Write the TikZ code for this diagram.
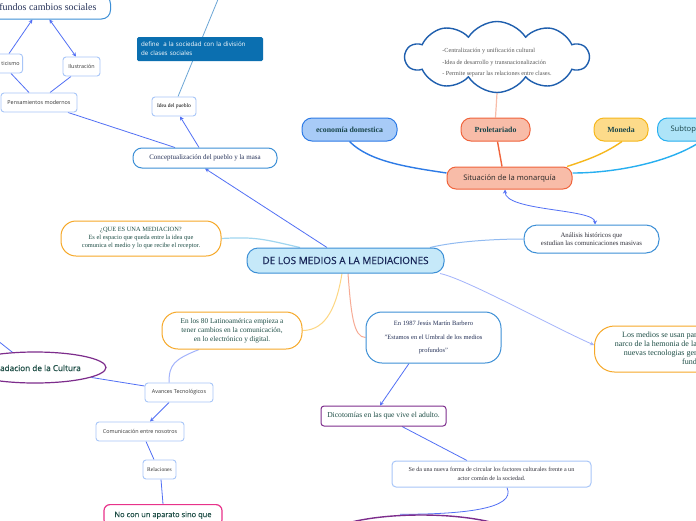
\documentclass[tikz,border=0pt]{standalone}
\usepackage{fontspec}
\setmainfont{Liberation Serif}
\newfontfamily\osans{Open Sans}
\newfontfamily\osansmed[FakeBold=0.5]{Open Sans}
\usetikzlibrary{arrows.meta,shapes.geometric,shapes.symbols}
\pgfdeclarelayer{bg}
\pgfsetlayers{bg,main}
\definecolor{cblue}{RGB}{82,112,245}
\definecolor{lbord}{RGB}{168,198,248}
\definecolor{mbord}{RGB}{60,143,214}
\definecolor{obord}{RGB}{246,168,40}
\definecolor{pbord}{RGB}{125,45,140}
\definecolor{pinkbd}{RGB}{232,50,138}
\definecolor{dgreen}{RGB}{30,78,70}
\definecolor{navy}{RGB}{24,38,88}
\definecolor{navytwo}{RGB}{40,52,90}
\definecolor{dgray}{RGB}{50,50,60}
\definecolor{defblue}{RGB}{11,111,176}
\definecolor{cenfill}{RGB}{198,233,249}
\definecolor{sfill}{RGB}{248,188,168}
\definecolor{sbord}{RGB}{240,100,60}
\definecolor{ecofill}{RGB}{168,203,247}
\definecolor{ecobord}{RGB}{46,123,230}
\definecolor{monfill}{RGB}{253,219,138}
\definecolor{monbord}{RGB}{246,183,27}
\definecolor{subfill}{RGB}{174,228,248}
\definecolor{subbord}{RGB}{39,175,240}
\definecolor{cldbord}{RGB}{31,95,174}
\definecolor{lcyan}{RGB}{160,214,240}
\definecolor{lperi}{RGB}{163,179,251}
\definecolor{lyel}{RGB}{253,215,131}
\definecolor{lsalm}{RGB}{247,171,149}
\definecolor{dteal}{RGB}{25,70,75}
\tikzset{
  sbox/.style={draw=lbord, fill=white, line width=0.9pt, rounded corners=3pt, inner sep=1pt, font=\osans\fontsize{5.4}{6.5}\selectfont, text=black!80},
  capbox/.style={fill=white, line width=1pt, align=center},
  conn/.style={draw=cblue, line width=0.8pt},
  thick conn/.style={line width=1.4pt},
  tip/.style={-{Stealth[length=4pt,width=4pt]}},
  dtip/.style={{Stealth[length=4pt,width=4pt]}-{Stealth[length=4pt,width=4pt]}}
}
\begin{document}
\begin{tikzpicture}[x=1pt,y=-1pt]
\begin{pgfonlayer}{bg}
\fill[white] (0,0) rectangle (696,520);
\end{pgfonlayer}
\useasboundingbox (0,0) rectangle (696,520);

% ---- upper left
\node[capbox, draw=mbord, anchor=east, minimum height=24, inner xsep=0pt, rounded corners=9pt, font=\fontsize{10}{12}\selectfont, text=navytwo] (top) at (111,7) {\hspace*{22pt}fundos cambios sociales\hspace*{14pt}};
\node[sbox, anchor=east, minimum height=19, inner xsep=0pt] (tic) at (23,63.5) {\hspace*{20pt}ticismo\hspace*{3pt}};
\node[sbox, minimum width=37, minimum height=19] (ilu) at (81.5,66.5) {Ilustración};
\node[sbox, minimum width=76, minimum height=19] (pen) at (39,102.5) {Pensamientos modernos};
\node[sbox, minimum width=44, minimum height=19, font=\fontsize{5.5}{6.5}\selectfont, text=black] (idea) at (174,106.5) {Idea del pueblo};
\node[fill=defblue, rounded corners=1.5pt, minimum width=126, minimum height=24, text width=118, align=left, inner sep=0pt, font=\osans\fontsize{6.2}{9}\selectfont, text=white] (def) at (200,49) {define\ \ a la sociedad con la división\\de clases sociales};
\node[capbox, draw=mbord, minimum width=144, minimum height=20, rounded corners=9pt, font=\fontsize{7}{8}\selectfont, text=navytwo] (con) at (205,158) {Conceptualización del pueblo y la masa};
\coordinate (upend) at (226,-20);

% ---- centre
\node[capbox, draw=mbord, fill=cenfill, rounded corners=11pt, minimum width=197, minimum height=25, font=\osansmed\fontsize{10}{12}\selectfont, text=navy] (cen) at (345.5,260.5) {DE LOS MEDIOS A LA MEDIACIONES};
\node[capbox, draw=obord, rounded corners=15pt, minimum width=160, minimum height=35, font=\fontsize{6.4}{8}\selectfont, text=dgreen] (que) at (141,238.5) {¿QUE ES UNA MEDIACION?\\Es el espacio que queda entre la idea que\\comunica el medio y lo que recibe el receptor.};

% ---- upper right
\node[capbox, draw=sbord, fill=sfill, rounded corners=9pt, minimum width=125, minimum height=22, font=\osans\fontsize{7.6}{8.5}\selectfont, text=black!85] (sit) at (509.5,178) {Situación de la monarquía};
\node[capbox, draw=ecobord, fill=ecofill, rounded corners=10pt, minimum width=95, minimum height=23, font=\bfseries\fontsize{7.8}{9}\selectfont, text=dteal] (eco) at (349.5,129.5) {economía domestica};
\node[capbox, draw=sbord, fill=sfill, rounded corners=10pt, minimum width=69, minimum height=23, font=\bfseries\fontsize{7.8}{9}\selectfont, text=dteal] (prol) at (495.5,129.5) {Proletariado};
\node[capbox, draw=monbord, fill=monfill, rounded corners=10pt, minimum width=54, minimum height=23, font=\bfseries\fontsize{7.8}{9}\selectfont, text=dteal] (mon) at (621,129.5) {Moneda};
\node[capbox, draw=subbord, fill=subfill, rounded corners=10pt, anchor=west, minimum height=23, inner xsep=0pt, font=\osans\fontsize{7.6}{9}\selectfont, text=dteal] (sub) at (657,129.5) {\hspace*{13pt}Subtop\hspace*{40pt}};
\node[cloud, cloud puffs=10, cloud puff arc=115, aspect=2.6, draw=cldbord, line width=1.4pt, fill=white, minimum width=183, minimum height=71, inner sep=0pt] (cld) at (497,57) {};
\node[align=left, inner sep=0pt, font=\fontsize{6.2}{11.5}\selectfont, text=black!65] (cldt) at (497,62.5) {-Centralización y unificación cultural\\-Idea de desarrollo y transnacionalización\\- Permite separar las relaciones entre clases.};
\node[capbox, draw=mbord, rounded corners=13pt, minimum width=135, minimum height=28, font=\fontsize{6.8}{8.5}\selectfont, text=dgray] (ana) at (591.5,239) {Análisis históricos que\\estudian las comunicaciones masivas};
\node[capbox, draw=obord, rounded corners=20pt, minimum width=190, minimum height=46, anchor=west] (medbox) at (594,349) {};
\node[anchor=east, align=right, inner sep=0pt, font=\fontsize{8}{9}\selectfont, text=dgreen] (medtxt) at (697,348.5) {Los medios se usan par\\narco de la hemonia de la\\nuevas tecnologias ger\\fund};

% ---- lower left
\node[capbox, draw=obord, rounded corners=16pt, minimum width=140, minimum height=37, font=\fontsize{7.3}{9}\selectfont, text=dgreen] (en80) at (232,330.5) {En los 80 Latinoamérica empieza a\\tener cambios en la comunicación,\\en lo electrónico y digital.};
\node[ellipse, draw=pbord, line width=1.2pt, fill=white, minimum width=142, minimum height=31, inner sep=0pt] (ell) at (35,367.5) {};
\node[anchor=east, inner sep=0pt, font=\osansmed\fontsize{8.2}{9}\selectfont, text=dgreen] (ellt) at (81,368) {adacion de la Cultura};
\coordinate (offl) at (-12,333);
\node[sbox, minimum width=68, minimum height=19] (av) at (179,392.5) {Avances Tecnológicos};
\node[sbox, minimum width=88, minimum height=19] (com) at (140,431.5) {Comunicación entre nosotros};
\node[sbox, minimum width=33, minimum height=19, font=\fontsize{5.6}{6.5}\selectfont] (rel) at (159.5,469.5) {Relaciones};
\node[capbox, draw=pinkbd, line width=1.2pt, rounded corners=6pt, anchor=north, minimum width=118, inner ysep=7pt, font=\osansmed\fontsize{7.5}{9}\selectfont, text=dgreen] (noc) at (163,504) {No con un aparato sino que};

% ---- lower middle
\node[capbox, draw=mbord, rounded corners=16pt, minimum width=135, minimum height=51, font=\fontsize{6.5}{13.5}\selectfont, text=navytwo] (e87) at (433.5,337.5) {En 1987 Jesús Martín Barbero\\"Estamos en el Umbral de los medios\\profundos"};
\node[capbox, draw=pbord, rounded corners=3pt, minimum width=125, minimum height=20, font=\fontsize{7.6}{9}\selectfont, text=dgreen] (dico) at (383.5,416) {Dicotomías en las que vive el adulto.};
\node[capbox, draw=lbord, rounded corners=4pt, minimum width=199, minimum height=26, font=\fontsize{6.1}{9}\selectfont, text=dgray] (seda) at (491.5,474) {Se da una nueva forma de circular los factores culturales frente a un\\actor común de la sociedad.};
\node[ellipse, draw=pbord, line width=1.4pt, fill=white, minimum width=200, minimum height=50, inner sep=0pt] (bell) at (421,540) {};

\begin{pgfonlayer}{bg}
% upper left
\draw[conn, tip] ([xshift=7pt]tic.north) -- ([xshift=-11.5pt]top.south);
\draw[conn, dtip] ([xshift=-5.5pt]ilu.north) -- ([xshift=5.5pt]top.south);
\draw[conn] ([xshift=9pt]tic.south) -- ([xshift=-10pt]pen.north);
\draw[conn] ([xshift=-10.5pt]ilu.south) -- ([xshift=11pt]pen.north);
\draw[conn] ([xshift=29pt]pen.south) -- ([xshift=-30pt]con.north);
\draw[conn, tip] ([xshift=-6pt]con.north) -- ([xshift=6pt]idea.south);
\draw[conn, draw=lcyan!60!cldbord] ([xshift=4pt]idea.north) -- (upend);
\draw[conn, tip] ([xshift=-18.5pt]cen.north) -- (con.south);
\draw[conn, draw=lcyan, line width=1.2pt] (que.east) .. controls +(35,-2) and +(-35,-8) .. ([xshift=-45.5pt]cen.north);
% upper right
\draw[conn, draw=lbord!80!mbord, line width=1pt] ([xshift=84.5pt]cen.north) .. controls +(25,-6) and +(-30,0) .. (ana.west);
\draw[conn, draw=lperi, tip] ([xshift=94.5pt]cen.south) .. controls +(25,5) and +(-45,-20) .. ([yshift=4pt]medbox.west);
\draw[conn, dtip] ([xshift=-4.5pt]sit.south) .. controls +(0,22) and +(0,-16) .. ([xshift=3.5pt]ana.north);
\draw[thick conn, draw=ecobord] (eco.south) .. controls +(20,20) and +(-40,-6) .. ([yshift=5pt]sit.west);
\draw[thick conn, draw=sbord] ([xshift=2pt]prol.south) -- ([xshift=-7.5pt]sit.north);
\draw[thick conn, draw=monbord] ([xshift=1pt]mon.south) .. controls +(-20,14) and +(15,-5) .. ([xshift=57.5pt]sit.north);
\draw[thick conn, draw=subbord] ([xshift=4pt]sub.south) .. controls +(-30,20) and +(45,0) .. ([yshift=5pt]sit.east);
\draw[line width=1.2pt, draw=sfill] (cld.south) -- (prol.north);
% lower
\draw[conn, draw=lyel, line width=1pt] ([xshift=-3.5pt]cen.south) .. controls +(-5,30) and +(25,0) .. (en80.east);
\draw[conn, draw=lsalm, line width=1pt] ([xshift=2.5pt]cen.south) .. controls +(3,40) and +(-12,0) .. (e87.west);
\draw[conn, draw=lperi, line width=1pt] ([xshift=-33pt]en80.south) .. controls +(-25,10) and +(0,-18) .. ([xshift=-10pt]av.north);
\draw[conn] (ell.-10) -- ([yshift=6.5pt]av.west);
\draw[conn] (ell.146) -- (offl);
\draw[conn, tip] ([xshift=-10pt]av.south) -- ([xshift=10pt]com.north);
\draw[conn] ([xshift=6pt]com.south) -- ([xshift=-5.5pt]rel.north);
\draw[conn] ([xshift=1.5pt]rel.south) -- (noc.north);
\draw[conn, tip] ([xshift=-24.5pt]e87.south) -- ([xshift=-3.5pt]dico.north);
\draw[conn] ([xshift=18.5pt]dico.south) -- ([xshift=-24.5pt]seda.north);
\draw[conn] ([xshift=15.5pt]seda.south) .. controls +(10,22) and +(60,0) .. ([xshift=-21pt]bell.north);
\end{pgfonlayer}
\end{tikzpicture}
\end{document}
